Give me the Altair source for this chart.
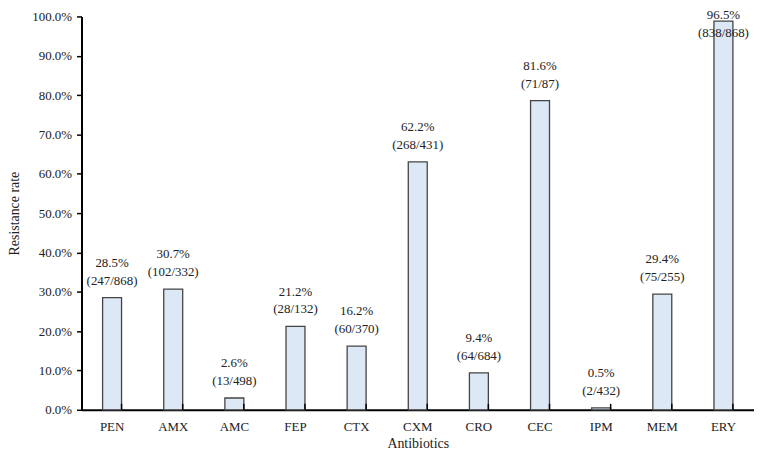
import altair as alt
import pandas as pd

antibiotics = ["PEN", "AMX", "AMC", "FEP", "CTX", "CXM", "CRO", "CEC", "IPM", "MEM", "ERY"]
bar_values = [28.5, 30.7, 3.0, 21.2, 16.2, 63.0, 9.4, 78.6, 0.5, 29.4, 98.8]
pct_labels = ["28.5%", "30.7%", "2.6%", "21.2%", "16.2%", "62.2%", "9.4%", "81.6%", "0.5%", "29.4%", "96.5%"]
frac_labels = ["(247/868)", "(102/332)", "(13/498)", "(28/132)", "(60/370)", "(268/431)",
               "(64/684)", "(71/87)", "(2/432)", "(75/255)", "(838/868)"]

df = pd.DataFrame({"ab": antibiotics, "v": bar_values, "pct": pct_labels, "frac": frac_labels})

FONT = "Liberation Serif"
W, H = 677, 396

x_axis = alt.Axis(labelAngle=0, ticks=False, labelPadding=11, labelFontSize=13,
                  labelFont=FONT, labelColor="#222", titleFont=FONT, titleFontSize=14,
                  titleFontWeight="normal", titleColor="#222", titlePadding=3,
                  domainColor="#000", domainWidth=2)
x_scale = alt.Scale(paddingInner=0.69, paddingOuter=0.345)
y_axis = alt.Axis(values=list(range(0, 101, 10)),
                  labelExpr="format(datum.value, '.1f') + '%'",
                  labelOverlap=False,
                  grid=False, tickSize=5, tickWidth=1.5, tickColor="#000",
                  domainColor="#000", domainWidth=2, labelPadding=5,
                  labelFont=FONT, labelFontSize=13, labelColor="#222",
                  titleFont=FONT, titleFontSize=14, titleFontWeight="normal",
                  titleColor="#222", titleX=-67, titleY=H / 2,
                  titleAngle=-90, titleAlign="center", titleBaseline="middle")
y_scale = alt.Scale(domain=[0, 100], nice=False)

base = alt.Chart(df)

bars = base.mark_bar(fill="#DCE8F6", stroke="#444", strokeWidth=1.3).encode(
    x=alt.X("ab:N", sort=antibiotics, title="Antibiotics", scale=x_scale, axis=x_axis),
    y=alt.Y("v:Q", scale=y_scale, title="Resistance rate", axis=y_axis),
)

label_base = base.transform_calculate(ly="min(datum.v, 91.5)")

pct_text = label_base.mark_text(font=FONT, fontSize=13, color="#222", baseline="bottom", dy=-28).encode(
    x=alt.X("ab:N", sort=antibiotics, title="Antibiotics", scale=x_scale, axis=x_axis),
    y=alt.Y("ly:Q", scale=y_scale, title="Resistance rate", axis=y_axis),
    text="pct:N",
)
frac_text = label_base.mark_text(font=FONT, fontSize=13, color="#222", baseline="bottom", dy=-10).encode(
    x=alt.X("ab:N", sort=antibiotics, title="Antibiotics", scale=x_scale, axis=x_axis),
    y=alt.Y("ly:Q", scale=y_scale, title="Resistance rate", axis=y_axis),
    text="frac:N",
)

ticks = base.mark_rule(color="#000", strokeWidth=1.5).encode(
    x=alt.X("ab:N", sort=antibiotics, bandPosition=1, title="Antibiotics", scale=x_scale, axis=x_axis),
    y=alt.value(H),
    y2=alt.value(H - 6),
)

chart = alt.layer(bars, pct_text, frac_text, ticks).properties(
    width=W, height=H,
    padding={"left": 74, "top": 7, "right": 0, "bottom": 41},
    autosize=alt.AutoSizeParams(type="none"),
).configure_view(stroke=None)

chart.save("out.html", embed_options={"renderer": "svg", "actions": False})
